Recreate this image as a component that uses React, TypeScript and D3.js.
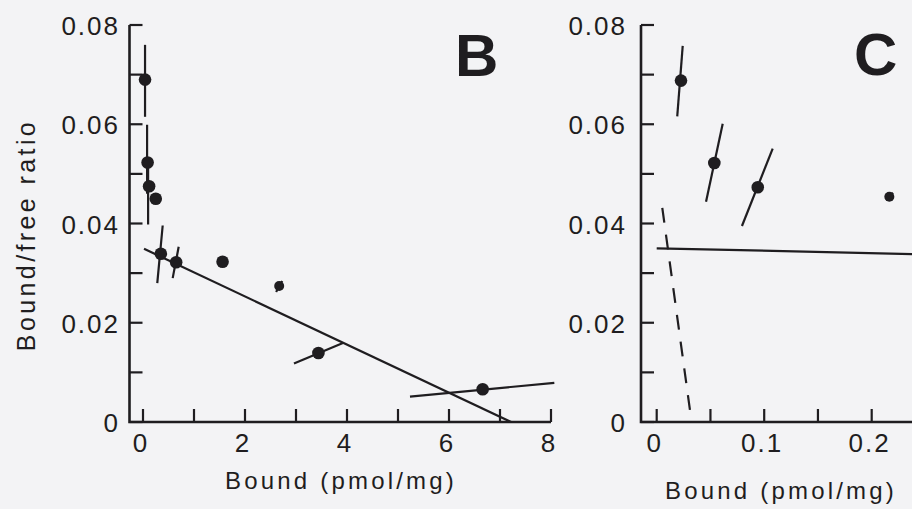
import React from "react";
import * as d3 from "d3";

// Panel B: Scatchard data, bound (pmol/mg) vs bound/free ratio
const bBound = [0.04, 0.09, 0.12, 0.25, 0.35, 0.65, 1.56, 2.67, 3.44, 6.66];
const bRatio = [0.069, 0.0523, 0.0475, 0.045, 0.0339, 0.0322, 0.0323, 0.0274, 0.0139, 0.0066];
// error bar end points [x1, y1, x2, y2] for each point (null: none drawn)
const bBars: (number[] | null)[] = [
  [0.04, 0.076, 0.04, 0.0615],
  [0.08, 0.0599, 0.08, 0.046],
  [0.1, 0.052, 0.1, 0.0398],
  null,
  [0.386, 0.0396, 0.28, 0.028],
  [0.7, 0.0353, 0.582, 0.029],
  null,
  [2.61, 0.0262, 2.73, 0.0284],
  [2.96, 0.0118, 3.92, 0.0159],
  [5.235, 0.0051, 8.065, 0.0079],
];

// Panel C: low-range data
const cBound = [0.0226, 0.0536, 0.094, 0.2164];
const cRatio = [0.0688, 0.0522, 0.0473, 0.0454];
const cBars: (number[] | null)[] = [
  [0.0242, 0.0758, 0.0191, 0.0616],
  [0.0614, 0.0601, 0.0459, 0.0444],
  [0.1079, 0.0551, 0.0793, 0.0395],
  [0.2133, 0.0448, 0.2198, 0.0462],
];

// fitted lines: [intercept, slope]
const lowAffinityFit = [0.035, -0.00485];
const highAffinityFit = [0.0514, -1.584];

const yTicks = [0, 0.01, 0.02, 0.03, 0.04, 0.05, 0.06, 0.07, 0.08];
const yLabels = ["0", "0.02", "0.04", "0.06", "0.08"];
const yLabelValues = [0, 0.02, 0.04, 0.06, 0.08];
const bXTicks = [0, 1, 2, 3, 4, 5, 6, 7, 8];
const bXLabelValues = [0, 2, 4, 6, 8];
const bXLabels = ["0", "2", "4", "6", "8"];
const cXTicks = [0, 0.05, 0.1, 0.15, 0.2];
const cXLabelValues = [0, 0.1, 0.2];
const cXLabels = ["0", "0.1", "0.2"];

const INK = "#1f1d20";
const FONT = "'Liberation Sans', Arial, sans-serif";

const yScale = d3.scaleLinear().domain([0, 0.08]).range([422, 25]);
const bX = d3.scaleLinear().domain([0, 8]).range([143, 551]);
const cX = d3.scaleLinear().domain([0, 0.2]).range([656.7, 871.7]);

type AxisProps = {
  axisX: number;
  xEnd: number;
  x: d3.ScaleLinear<number, number>;
  xTicks: number[];
  xLabelValues: number[];
  xLabels: string[];
  labelRight: number;
};

function Axes({ axisX, xEnd, x, xTicks, xLabelValues, xLabels, labelRight }: AxisProps) {
  const y0 = yScale(0);
  const tickLen = 13;
  return (
    <g>
      <path
        d={`M${axisX},${yScale(0.08)} V${y0} H${xEnd}`}
        fill="none"
        stroke={INK}
        strokeWidth={2.6}
      />
      {yTicks.map((t) => (
        <line key={"yt" + t} x1={axisX} x2={axisX + tickLen} y1={yScale(t)} y2={yScale(t)} stroke={INK} strokeWidth={2.2} />
      ))}
      {xTicks.map((t) => (
        <line key={"xt" + t} x1={x(t)} x2={x(t)} y1={y0} y2={y0 - tickLen} stroke={INK} strokeWidth={2.2} />
      ))}
      {yLabelValues.map((v, i) => (
        <text
          key={"yl" + v}
          x={labelRight + 2}
          y={yScale(v) + 10}
          textAnchor="end"
          fontSize={26}
          letterSpacing={2}
          fontFamily={FONT}
          fill={INK}
        >
          {yLabels[i]}
        </text>
      ))}
      {xLabelValues.map((v, i) => (
        <text
          key={"xl" + v}
          x={x(v) - 2}
          y={452}
          textAnchor="middle"
          fontSize={26}
          letterSpacing={2}
          fontFamily={FONT}
          fill={INK}
        >
          {xLabels[i]}
        </text>
      ))}
    </g>
  );
}

function Points({ xs, ys, bars, x, small }: { xs: number[]; ys: number[]; bars: (number[] | null)[]; x: d3.ScaleLinear<number, number>; small: number[] }) {
  return (
    <g>
      {bars.map((b, i) =>
        b ? (
          <line key={"b" + i} x1={x(b[0])} y1={yScale(b[1])} x2={x(b[2])} y2={yScale(b[3])} stroke={INK} strokeWidth={2.2} />
        ) : null
      )}
      {xs.map((v, i) => (
        <circle key={"p" + i} cx={x(v)} cy={yScale(ys[i])} r={small.includes(i) ? 5 : 6.3} fill={INK} />
      ))}
    </g>
  );
}

export default function App() {
  const lineB = d3.line<number>().x((v) => bX(v)).y((v) => yScale(lowAffinityFit[0] + lowAffinityFit[1] * v));
  const bLineStart = 0.02;
  const bLineEnd = -lowAffinityFit[0] / lowAffinityFit[1];
  const lineC = d3.line<number>().x((v) => cX(v)).y((v) => yScale(lowAffinityFit[0] + lowAffinityFit[1] * v));
  const dashC = d3.line<number>().x((v) => cX(v)).y((v) => yScale(highAffinityFit[0] + highAffinityFit[1] * v));
  const dashStart = 0.0052;
  const dashEnd = -highAffinityFit[0] / highAffinityFit[1];

  return (
    <svg
      width={912}
      height={509}
      style={{ position: "absolute", left: 0, top: 0, background: "#f3f3f5" }}
    >
      <rect x={0} y={0} width={912} height={509} fill="#f3f3f5" />

      {/* Panel B */}
      <Axes axisX={129.5} xEnd={551} x={bX} xTicks={bXTicks} xLabelValues={bXLabelValues} xLabels={bXLabels} labelRight={118} />
      <path d={lineB([bLineStart, bLineEnd]) || ""} fill="none" stroke={INK} strokeWidth={2.2} />
      <Points xs={bBound} ys={bRatio} bars={bBars} x={bX} small={[7]} />
      <text x={455} y={76} fontSize={60} fontWeight="bold" fontFamily={FONT} fill={INK}>B</text>
      <text
        x={341}
        y={489}
        textAnchor="middle"
        fontSize={24}
        letterSpacing={3.2}
        fontFamily={FONT}
        fill={INK}
      >
        Bound (pmol/mg)
      </text>
      <text
        transform="translate(35,235) rotate(-90)"
        textAnchor="middle"
        fontSize={25}
        letterSpacing={3.4}
        fontFamily={FONT}
        fill={INK}
      >
        Bound/free ratio
      </text>

      {/* Panel C */}
      <Axes axisX={641} xEnd={920} x={cX} xTicks={cXTicks} xLabelValues={cXLabelValues} xLabels={cXLabels} labelRight={625} />
      <path d={lineC([0, 0.25]) || ""} fill="none" stroke={INK} strokeWidth={2.2} />
      <path d={dashC([dashStart, dashEnd]) || ""} fill="none" stroke={INK} strokeWidth={2.2} strokeDasharray="15,12" />
      <Points xs={cBound} ys={cRatio} bars={cBars} x={cX} small={[3]} />
      <text x={854} y={75} fontSize={60} fontWeight="bold" fontFamily={FONT} fill={INK}>C</text>
      <text
        x={781}
        y={499}
        textAnchor="middle"
        fontSize={24}
        letterSpacing={3.2}
        fontFamily={FONT}
        fill={INK}
      >
        Bound (pmol/mg)
      </text>
    </svg>
  );
}
